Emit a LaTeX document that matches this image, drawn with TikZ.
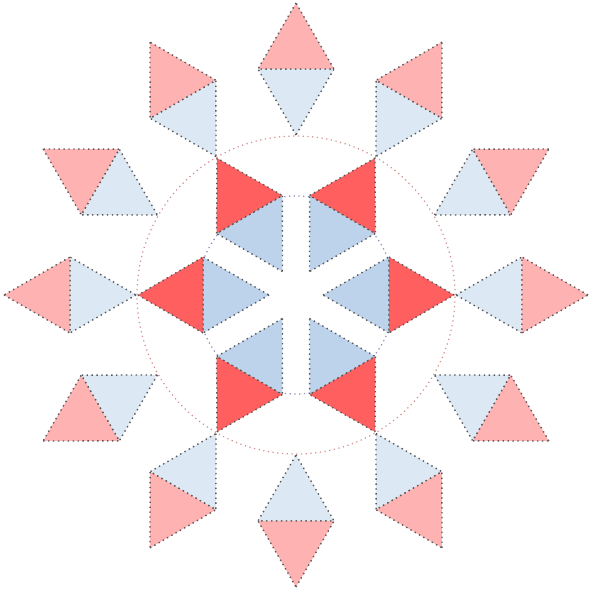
\documentclass[tikz,border=0pt]{standalone}
\usepackage{tikz}
\usetikzlibrary{calc}
\definecolor{redIn}{HTML}{FF5F5F}
\definecolor{blueIn}{HTML}{BDD3EC}
\definecolor{redOut}{HTML}{FFB2B2}
\definecolor{blueOut}{HTML}{DDE8F5}

\begin{document}
\begin{tikzpicture}[x=0.02cm,y=0.02cm,
  tri/.style={draw=black!65,dotted,line width=0.8pt},
  ring/.style={dotted,line width=0.7pt}]
\useasboundingbox (0,0) rectangle (589,589);
\coordinate (c) at (296,294);
% guide circles
\draw[ring,blue!30!gray!70] (c) circle (99);
\draw[ring,red!45!gray!60] (c) circle (159);
% inner star: six rhombi
\foreach \a in {0,60,...,300} {
  \coordinate (i0) at ($(c)+(\a:27)$);
  \coordinate (i1) at ($(c)+(\a:93)+(\a+90:38)$);
  \coordinate (i2) at ($(c)+(\a:93)+(\a-90:38)$);
  \coordinate (i3) at ($(c)+(\a:158)$);
  \filldraw[tri,fill=blueIn] (i0) -- (i1) -- (i2) -- cycle;
  \filldraw[tri,fill=redIn] (i3) -- (i1) -- (i2) -- cycle;
}
% outer ring: twelve rhombi
\foreach \a in {0,30,...,330} {
  \coordinate (o0) at ($(c)+(\a:160)$);
  \coordinate (o1) at ($(c)+(\a:226)+(\a+90:38)$);
  \coordinate (o2) at ($(c)+(\a:226)+(\a-90:38)$);
  \coordinate (o3) at ($(c)+(\a:292)$);
  \filldraw[tri,fill=blueOut] (o0) -- (o1) -- (o2) -- cycle;
  \filldraw[tri,fill=redOut] (o3) -- (o1) -- (o2) -- cycle;
}
\end{tikzpicture}
\end{document}
